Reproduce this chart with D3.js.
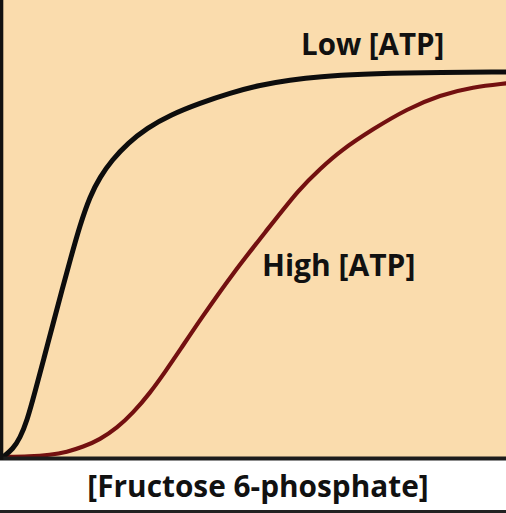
<!DOCTYPE html>
<html>
<head>
<meta charset="utf-8">
<script src="https://cdn.jsdelivr.net/npm/d3@7"></script>
<style>
  html, body { margin: 0; padding: 0; background: #ffffff; }
  svg { display: block; }
</style>
</head>
<body>
<div id="chart"></div>
<script>
// ---- Data ----
const lowX  = [0, 1.99, 3.38, 4.77, 6.36, 8.15, 9.94, 11.73, 13.52, 15.31, 17.30, 19.28, 21.67, 24.85, 28.63, 33.20, 39.17, 45.13, 51.09, 57.06, 63.02, 70.97, 82.90, 100];
const lowY  = [0, 2, 4.75, 9, 16.25, 24.75, 33.25, 41.75, 50, 58, 65.25, 70, 74.25, 78.5, 82.25, 85.5, 88.5, 91, 93, 94.25, 95.125, 95.75, 96.125, 96.25];
const highX = [0, 5.37, 9.34, 12.72, 15.90, 19.28, 22.66, 25.84, 29.22, 32.21, 35.19, 39.17, 45.73, 52.49, 59.05, 63.02, 67.0, 73.56, 80.32, 86.88, 93.44, 100];
const highY = [0, 0.1, 0.5, 1.25, 2.5, 4.375, 7.25, 11, 16, 21.25, 26.75, 34.25, 46, 56.75, 67.25, 72, 76.5, 82, 87, 90.5, 92.5, 93.4];
const seriesLabels = ["Low [ATP]", "High [ATP]"];
const xAxisLabel = "[Fructose 6-phosphate]";

const W = 506, H = 513;
const svg = d3.select("#chart").append("svg").attr("width", W).attr("height", H);

const x = d3.scaleLinear().domain([0, 100]).range([3, 506]);
const y = d3.scaleLinear().domain([0, 100]).range([457, 57]);

// plot background
svg.append("rect").attr("x", 0).attr("y", 0).attr("width", W).attr("height", 458).attr("fill", "#fadcad");

const line = d3.line().x(d => x(d[0])).y(d => y(d[1])).curve(d3.curveBasis);

const lowData = lowX.map((v, i) => [v, lowY[i]]);
const highData = highX.map((v, i) => [v, highY[i]]);

svg.append("path").datum(highData).attr("d", line)
  .attr("fill", "none").attr("stroke", "#731010").attr("stroke-width", 4.2).attr("stroke-linecap", "round");
svg.append("path").datum(lowData).attr("d", line)
  .attr("fill", "none").attr("stroke", "#0d0d0d").attr("stroke-width", 5).attr("stroke-linecap", "round");

// axes (no ticks)
const xAxis = d3.axisBottom(x).tickValues([]).tickSizeOuter(0);
const yAxis = d3.axisLeft(y).tickValues([]).tickSizeOuter(0);
const gx = svg.append("g").attr("transform", "translate(0,458.5)").call(xAxis);
gx.select(".domain").attr("stroke", "#1c1c1c").attr("stroke-width", 4)
  .attr("d", `M0,0H${W}`);
const gy = svg.append("g").attr("transform", "translate(1.6,0)").call(yAxis);
gy.select(".domain").attr("stroke", "#111").attr("stroke-width", 3.4)
  .attr("d", `M0,0V460`);

// bottom frame line
svg.append("rect").attr("x", 0).attr("y", 510).attr("width", W).attr("height", 3).attr("fill", "#222");

// labels
const font = "'Open Sans', sans-serif";
svg.append("text").attr("x", 301).attr("y", 55).text(seriesLabels[0])
  .attr("font-family", font).attr("font-weight", 700).attr("font-size", 29.5).attr("fill", "#111");
svg.append("text").attr("x", 262).attr("y", 276).text(seriesLabels[1])
  .attr("font-family", font).attr("font-weight", 700).attr("font-size", 30).attr("fill", "#111");
svg.append("text").attr("x", 258).attr("y", 497).attr("text-anchor", "middle").text(xAxisLabel)
  .attr("font-family", font).attr("font-weight", 700).attr("font-size", 29.8).attr("fill", "#111");
</script>
</body>
</html>
